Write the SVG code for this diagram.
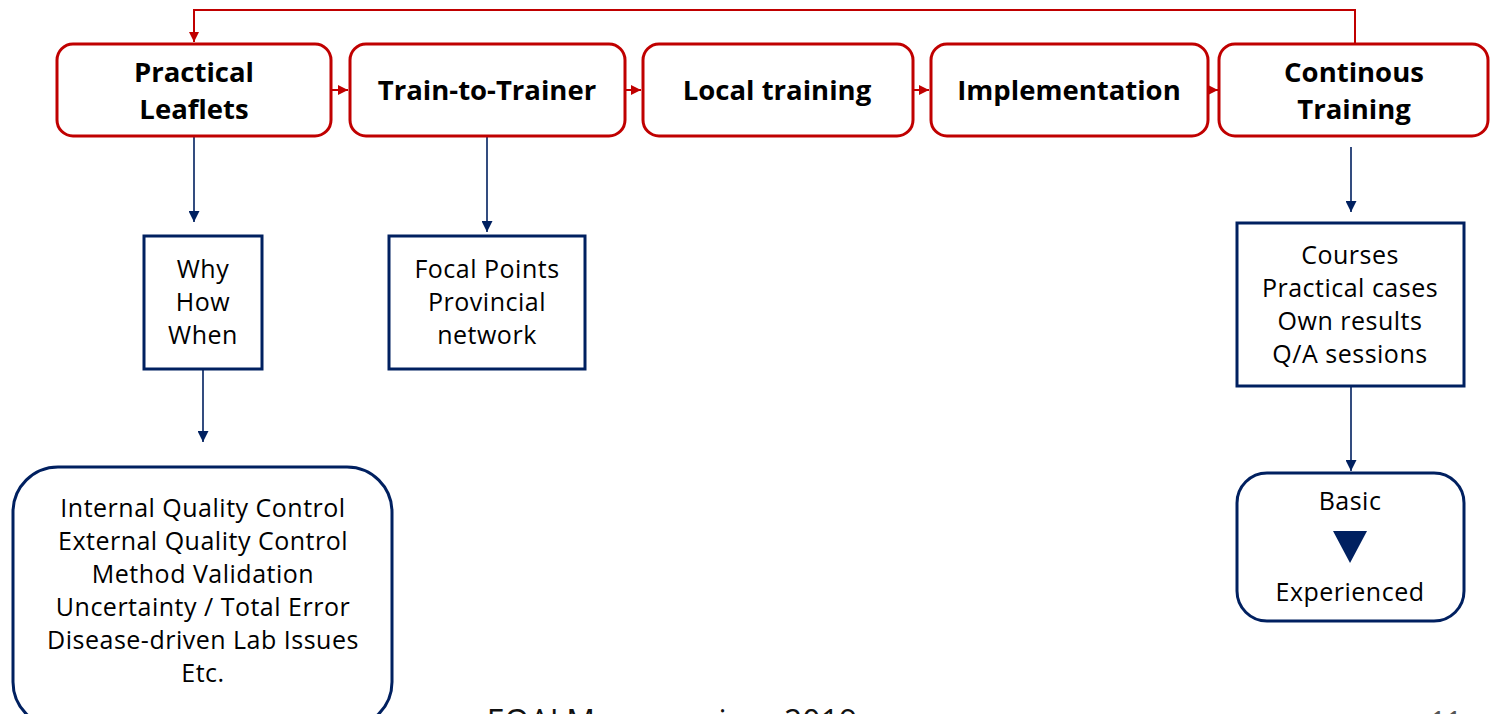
<svg xmlns="http://www.w3.org/2000/svg" width="1493" height="714" viewBox="0 0 1493 714">
<style>
.red{fill:#fff;stroke:#C00000;stroke-width:3}
.navy{fill:#fff;stroke:#002060;stroke-width:3}
.t{font-family:"Open Sans","DejaVu Sans",sans-serif;font-weight:700;font-size:27.5px;fill:#000;text-anchor:middle}
.s{font-family:"Open Sans","DejaVu Sans",sans-serif;font-size:25px;letter-spacing:0.5px;fill:#000;text-anchor:middle}
.rl{fill:none;stroke:#C00000;stroke-width:2}
.nl{fill:none;stroke:#002060;stroke-width:1.6}
.f{font-family:"Open Sans","DejaVu Sans",sans-serif;font-size:32px;fill:#111;text-anchor:middle}
</style>
<defs>
<marker id="ar" viewBox="0 0 10 10" refX="10" refY="5" markerWidth="10" markerHeight="10" markerUnits="userSpaceOnUse" orient="auto"><path d="M0,0L10,5L0,10z" fill="#C00000"/></marker>
<marker id="an" viewBox="0 0 10 10" refX="10" refY="5" markerWidth="11" markerHeight="11" markerUnits="userSpaceOnUse" orient="auto"><path d="M0,0L10,5L0,10z" fill="#002060"/></marker>
</defs>
<g id="connectors">
<path class="rl" d="M1355,44V10H194V42" marker-end="url(#ar)"/>
<path class="rl" d="M331,90H348" marker-end="url(#ar)"/>
<path class="rl" d="M625,90H641" marker-end="url(#ar)"/>
<path class="rl" d="M913,90H929" marker-end="url(#ar)"/>
<path class="rl" d="M1208,90H1218" marker-end="url(#ar)"/>
<path class="nl" d="M194,137V222" marker-end="url(#an)"/>
<path class="nl" d="M487,137V232" marker-end="url(#an)"/>
<path class="nl" d="M203,370V442" marker-end="url(#an)"/>
<path class="nl" d="M1351,147V212" marker-end="url(#an)"/>
<path class="nl" d="M1351,387V471" marker-end="url(#an)"/>
</g>
<g id="practical-leaflets"><rect class="red" x="57" y="44" width="274" height="92" rx="16"/><text class="t" x="194" y="82">Practical</text><text class="t" x="194" y="119">Leaflets</text></g>
<g id="train-to-trainer"><rect class="red" x="350" y="44" width="275" height="92" rx="16"/><text class="t" x="487" y="100">Train-to-Trainer</text></g>
<g id="local-training"><rect class="red" x="643" y="44" width="270" height="92" rx="16"/><text class="t" x="777" y="100">Local training</text></g>
<g id="implementation"><rect class="red" x="931" y="44" width="277" height="92" rx="16"/><text class="t" x="1069" y="100">Implementation</text></g>
<g id="continous-training"><rect class="red" x="1219" y="44" width="269" height="92" rx="16"/><text class="t" x="1354" y="82">Continous</text><text class="t" x="1354" y="119">Training</text></g>
<g id="why-how-when"><rect class="navy" x="144" y="236" width="118" height="133"/><text class="s" x="203" y="278">Why</text><text class="s" x="203" y="311">How</text><text class="s" x="203" y="344">When</text></g>
<g id="focal-points"><rect class="navy" x="389" y="236" width="196" height="133"/><text class="s" x="487" y="278">Focal Points</text><text class="s" x="487" y="311">Provincial</text><text class="s" x="487" y="344">network</text></g>
<g id="topics"><rect class="navy" x="13" y="467" width="379" height="260" rx="45"/><text class="s" x="203" y="517">Internal Quality Control</text><text class="s" x="203" y="550">External Quality Control</text><text class="s" x="203" y="583">Method Validation</text><text class="s" x="203" y="616">Uncertainty / Total Error</text><text class="s" x="203" y="649">Disease-driven Lab Issues</text><text class="s" x="203" y="682">Etc.</text></g>
<g id="courses"><rect class="navy" x="1237" y="223" width="227" height="163"/><text class="s" x="1350" y="264">Courses</text><text class="s" x="1350" y="297">Practical cases</text><text class="s" x="1350" y="330">Own results</text><text class="s" x="1350" y="363">Q/A sessions</text></g>
<g id="basic-experienced"><rect class="navy" x="1237" y="473" width="227" height="148" rx="30"/><text class="s" x="1350" y="510">Basic</text><path d="M1333,531H1367L1350,563z" fill="#002060"/><text class="s" x="1350" y="601">Experienced</text></g>
<text class="f" x="672" y="733">EQALM symposium 2019</text>
<text class="f" x="1446" y="731" style="font-size:28px;fill:#555">11</text>
</svg>
